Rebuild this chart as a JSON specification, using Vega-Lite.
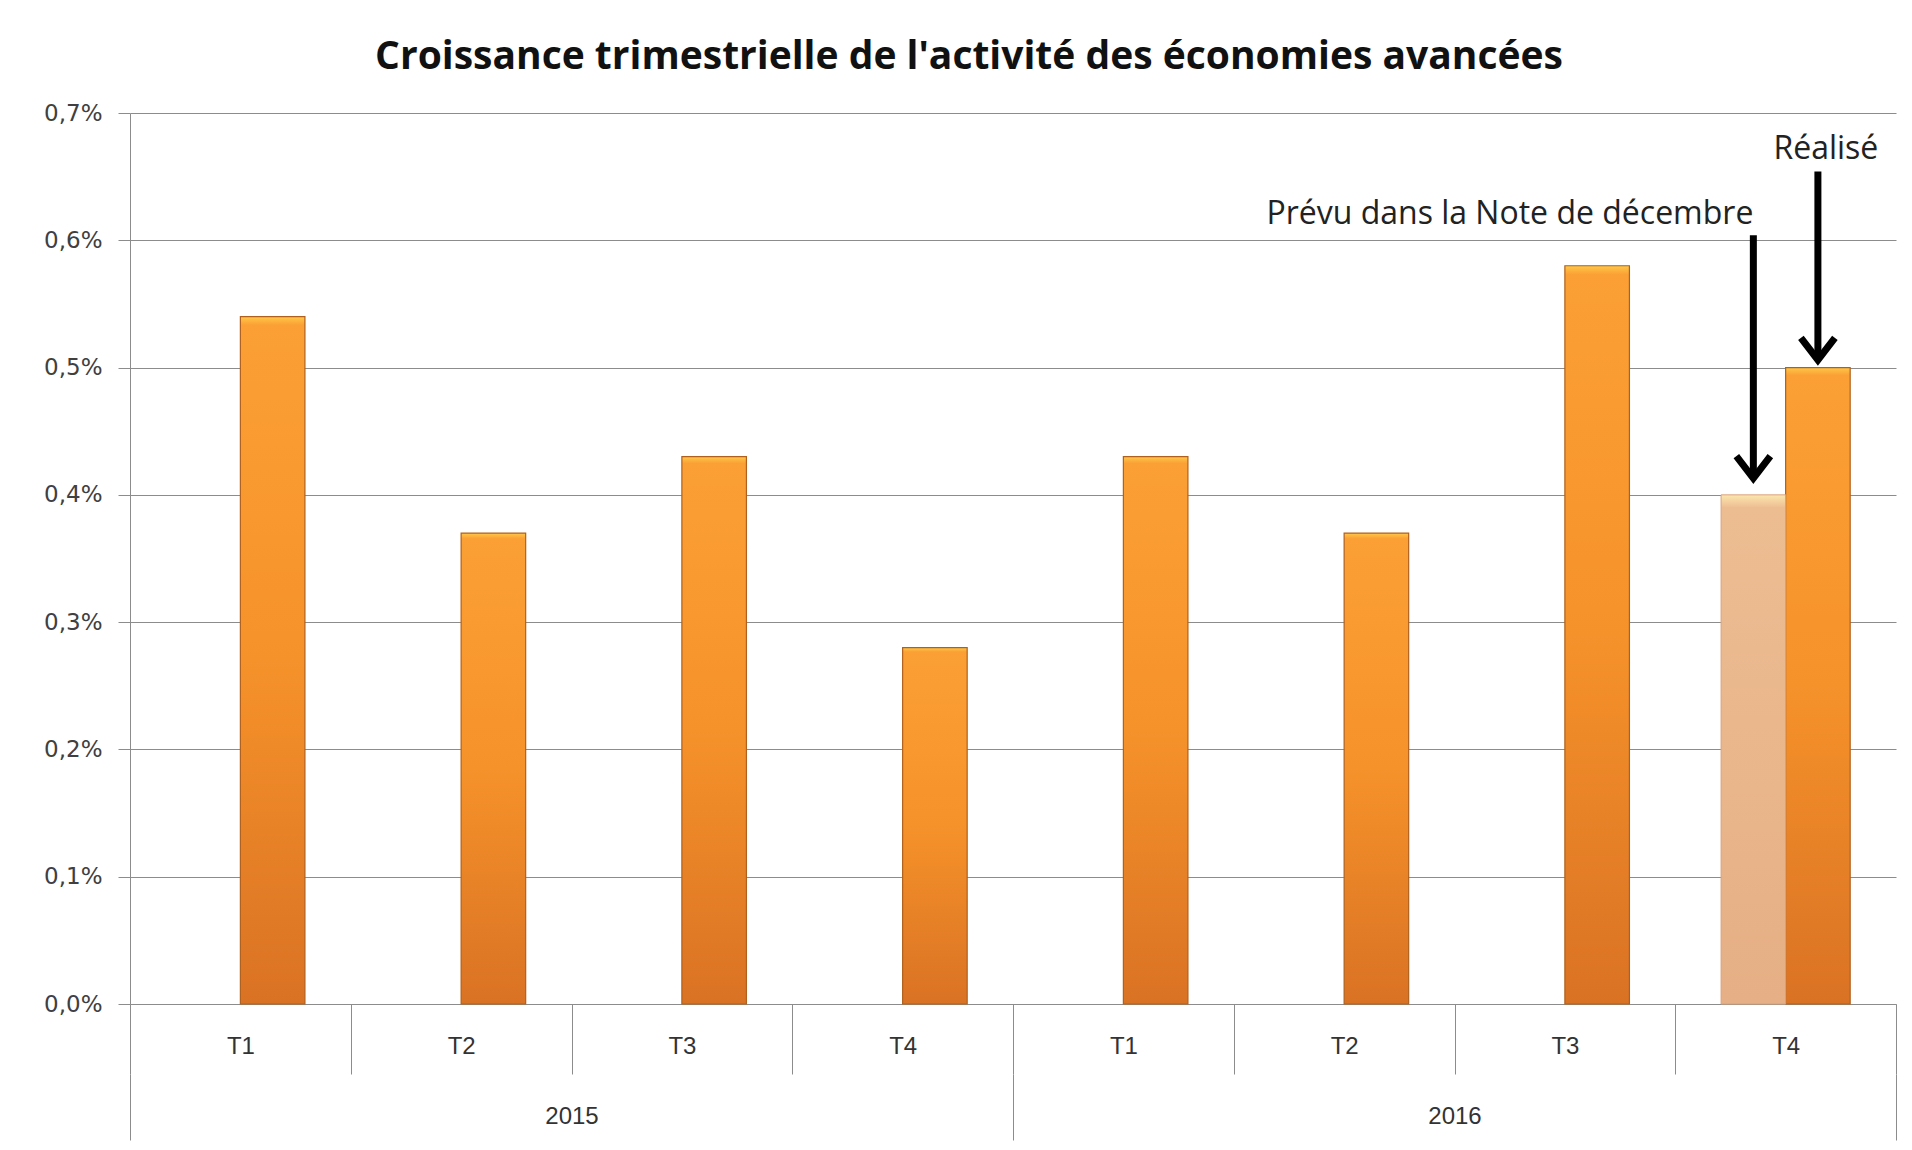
{
  "$schema": "https://vega.github.io/schema/vega-lite/v6.json",
  "width": 1766,
  "height": 891,
  "autosize": {"type": "none"},
  "padding": {"left": 130, "top": 113, "right": 16, "bottom": 146},
  "background": "white",
  "title": {
    "text": "Croissance trimestrielle de l'activité des économies avancées",
    "font": "Open Sans",
    "fontSize": 39,
    "fontWeight": "bold",
    "color": "#111111",
    "anchor": "middle",
    "frame": "group",
    "dx": -44,
    "offset": 25
  },
  "config": {
    "view": {"stroke": null}
  },
  "datasets": {
    "barres": [
      {"key": "2015 T1", "annee": "2015", "serie": "Réalisé", "croissance": 0.54},
      {"key": "2015 T2", "annee": "2015", "serie": "Réalisé", "croissance": 0.37},
      {"key": "2015 T3", "annee": "2015", "serie": "Réalisé", "croissance": 0.43},
      {"key": "2015 T4", "annee": "2015", "serie": "Réalisé", "croissance": 0.28},
      {"key": "2016 T1", "annee": "2016", "serie": "Réalisé", "croissance": 0.43},
      {"key": "2016 T2", "annee": "2016", "serie": "Réalisé", "croissance": 0.37},
      {"key": "2016 T3", "annee": "2016", "serie": "Réalisé", "croissance": 0.58},
      {"key": "2016 T4", "annee": "2016", "serie": "Réalisé", "croissance": 0.50},
      {"key": "2016 T4", "annee": "2016", "serie": "Prévu", "croissance": 0.40}
    ],
    "annotations": [
      {"key": "2016 T4", "serie": "Prévu", "haut": 0.604, "pointe": 0.413, "texte_y": 0.621, "texte": "Prévu dans la Note de décembre"},
      {"key": "2016 T4", "serie": "Réalisé", "haut": 0.654, "pointe": 0.506, "texte_y": 0.672, "texte": "Réalisé"}
    ]
  },
  "data": {"name": "barres"},
  "layer": [
    {
      "encoding": {
        "x": {
          "field": "key",
          "type": "nominal",
          "scale": {"paddingInner": 0, "paddingOuter": 0},
          "axis": {
            "title": null,
            "labelExpr": "split(datum.value, ' ')[1]",
            "labelAngle": 0,
            "tickBand": "extent",
            "tickSize": 70,
            "tickColor": "#8c8c8c",
            "domainColor": "#8c8c8c",
            "labelPadding": -40,
            "labelFont": "Liberation Sans",
            "labelFontSize": 24,
            "labelColor": "#333333"
          }
        },
        "xOffset": {
          "field": "serie",
          "type": "nominal",
          "scale": {"domain": ["Prévu", "Réalisé"], "paddingInner": 0, "paddingOuter": 0.71}
        }
      },
      "layer": [
        {
          "transform": [{"filter": "datum.serie === 'Réalisé'"}],
          "mark": {
            "type": "bar",
            "stroke": "#B0601C",
            "strokeWidth": 1.2,
            "fill": {
              "gradient": "linear",
              "x1": 0, "y1": 0, "x2": 0, "y2": 1,
              "stops": [
                {"offset": 0, "color": "#FFC84A"},
                {"offset": 0.012, "color": "#FBA035"},
                {"offset": 0.5, "color": "#F6922A"},
                {"offset": 1, "color": "#DA7224"}
              ]
            }
          },
          "encoding": {
            "y": {
              "field": "croissance",
              "type": "quantitative",
              "scale": {"domain": [0, 0.7], "nice": false},
              "axis": {
                "title": null,
                "values": [0, 0.1, 0.2, 0.3, 0.4, 0.5, 0.6, 0.7],
                "labelExpr": "replace(format(datum.value, '.1f'), '.', ',') + '%'",
                "grid": true,
                "gridColor": "#8c8c8c",
                "tickSize": 12,
                "tickColor": "#8c8c8c",
                "domainColor": "#8c8c8c",
                "labelFont": "DejaVu Sans",
                "labelFontSize": 23,
                "labelColor": "#404040",
                "labelPadding": 16
              }
            }
          }
        },
        {
          "transform": [{"filter": "datum.serie === 'Prévu'"}],
          "mark": {
            "type": "bar",
            "stroke": "#D9A27A",
            "strokeWidth": 1,
            "fill": {
              "gradient": "linear",
              "x1": 0, "y1": 0, "x2": 0, "y2": 1,
              "stops": [
                {"offset": 0, "color": "#FCE7AE"},
                {"offset": 0.025, "color": "#EDBD92"},
                {"offset": 1, "color": "#E6AF85"}
              ]
            }
          },
          "encoding": {
            "y": {"field": "croissance", "type": "quantitative"}
          }
        },
        {
          "data": {"name": "annotations"},
          "mark": {"type": "rule", "color": "black", "strokeWidth": 7},
          "encoding": {
            "y": {"field": "haut", "type": "quantitative"},
            "y2": {"field": "pointe"}
          }
        },
        {
          "data": {"name": "annotations"},
          "mark": {
            "type": "point",
            "shape": "M-1,-1.3L0,0L1,-1.3",
            "filled": false,
            "stroke": "black",
            "strokeWidth": 7,
            "size": 1156,
            "opacity": 1
          },
          "encoding": {
            "y": {"field": "pointe", "type": "quantitative"}
          }
        },
        {
          "data": {"name": "annotations"},
          "transform": [{"filter": "datum.serie === 'Prévu'"}],
          "mark": {"type": "text", "align": "right", "baseline": "middle", "dx": 0, "font": "Open Sans", "fontSize": 32, "color": "#222222"},
          "encoding": {
            "y": {"field": "texte_y", "type": "quantitative"},
            "text": {"field": "texte"}
          }
        },
        {
          "data": {"name": "annotations"},
          "transform": [{"filter": "datum.serie === 'Réalisé'"}],
          "mark": {"type": "text", "align": "center", "baseline": "middle", "dx": 8, "font": "Open Sans", "fontSize": 32, "color": "#222222"},
          "encoding": {
            "y": {"field": "texte_y", "type": "quantitative"},
            "text": {"field": "texte"}
          }
        }
      ]
    },
    {
      "mark": {"type": "rule", "opacity": 0},
      "encoding": {
        "x": {
          "field": "annee",
          "type": "nominal",
          "scale": {"paddingInner": 0, "paddingOuter": 0},
          "axis": {
            "orient": "bottom",
            "title": null,
            "offset": 70,
            "labelAngle": 0,
            "tickBand": "extent",
            "tickSize": 66,
            "tickColor": "#8c8c8c",
            "domain": false,
            "labelPadding": -36,
            "labelFont": "Liberation Sans",
            "labelFontSize": 24,
            "labelColor": "#333333"
          }
        }
      }
    }
  ],
  "resolve": {"scale": {"x": "independent"}, "axis": {"x": "independent"}}
}
